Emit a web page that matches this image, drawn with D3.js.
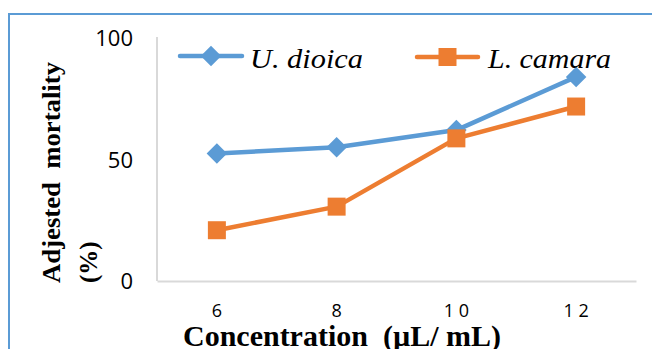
<!DOCTYPE html>
<html>
<head>
<meta charset="utf-8">
<script src="https://cdn.jsdelivr.net/npm/d3@7"></script>
<style>
  body { margin: 0; background: #fff; }
  svg { display: block; }
</style>
</head>
<body>
<div class="mortality-plot"></div>
<script>
// concentrations (µL/mL) and their printed tick labels
const concentrations = ["6", "8", "10", "12"];
const xTickLabels = ["6", "8", "1 0", "1 2"];
const yTicks = [0, 50, 100];

// adjusted mortality (%)
const dioica = [52.5, 55.0, 62.1, 84.0];
const camara = [20.9, 30.6, 58.7, 71.8];

const seriesNames = ["U. dioica", "L. camara"];

makeChart();

function makeChart() {
    const outerWidth = 652;
    const outerHeight = 349;

    const svg = d3.select('.mortality-plot')
                .append('svg')
                .attr('width', outerWidth)
                .attr('height', outerHeight);

    // blue frame (top and left edge only show in the crop)
    svg.append('path')
        .attr('d', `M9,349 L9,14 L652,14`)
        .attr('fill', 'none')
        .attr('stroke', '#5B9BD5')
        .attr('stroke-width', 2);

    const xScale = d3.scaleBand()
                .domain(concentrations)
                .range([157, 636]);
    const yScale = d3.scaleLinear()
                .domain([0, 100])
                .range([281, 38]);

    const xAxis = d3.axisBottom(xScale)
                .tickSize(0)
                .tickFormat((d, i) => xTickLabels[i]);
    const yAxis = d3.axisLeft(yScale)
                .tickValues(yTicks)
                .tickSize(0)
                .tickFormat(d3.format('d'));

    svg.append('g')
        .attr('transform', `translate(0, ${yScale(0)})`)
        .call(xAxis)
        .call(g => g.select('.domain')
                    .attr('stroke', '#D9D9D9')
                    .attr('stroke-width', 2))
        .call(g => g.selectAll('.tick text')
                    .attr('y', 30)
                    .attr('dy', '0.32em')
                    .attr('font-family', '"Open Sans", sans-serif')
                    .attr('font-size', 18)
                    .attr('fill', '#000'));

    svg.append('g')
        .attr('transform', `translate(157, 0)`)
        .call(yAxis)
        .call(g => g.select('.domain')
                    .attr('d', `M0,${yScale(0)}V${yScale(100) - 1}`)
                    .attr('stroke', '#D9D9D9')
                    .attr('stroke-width', 2))
        .call(g => g.selectAll('.tick text')
                    .attr('x', -24)
                    .attr('dy', '0.36em')
                    .attr('font-family', '"Open Sans", sans-serif')
                    .attr('font-size', 22)
                    .attr('fill', '#000'));

    // axis titles
    svg.append('text')
        .attr('x', 183)
        .attr('y', 346)
        .attr('font-family', '"Liberation Serif", serif')
        .attr('font-weight', 'bold')
        .attr('font-size', 29)
        .attr('textLength', 318)
        .attr('lengthAdjust', 'spacingAndGlyphs')
        .style('white-space', 'pre')
        .text('Concentration  (µL/ mL)');

    const yTitle = svg.append('text')
        .attr('transform', 'translate(60, 283) rotate(-90)')
        .attr('font-family', '"Liberation Serif", serif')
        .attr('font-weight', 'bold')
        .attr('font-size', 25)
        .style('white-space', 'pre');
    yTitle.append('tspan')
        .attr('x', 0).attr('y', 0)
        .attr('textLength', 221)
        .attr('lengthAdjust', 'spacingAndGlyphs')
        .text('Adjested  mortality');
    yTitle.append('tspan')
        .attr('x', 0).attr('y', 37)
        .text('(%)');

    const line = d3.line()
                .x((d, i) => xScale(concentrations[i]) + xScale.bandwidth() / 2)
                .y(d => yScale(d));

    const series = [
        {name: seriesNames[0], values: dioica, color: '#5B9BD5', symbol: 'diamond'},
        {name: seriesNames[1], values: camara, color: '#ED7D31', symbol: 'square'}
    ];

    const diamond = d3.symbol().type(d3.symbolSquare).size(210);
    const square = d3.symbol().type(d3.symbolSquare).size(324);

    function marker(sel, s) {
        sel.append('path')
            .attr('d', s.symbol === 'diamond' ? diamond() : square())
            .attr('fill', s.color)
            .attr('transform', function() {
                const base = d3.select(this.parentNode).attr('data-pos');
                return base + (s.symbol === 'diamond' ? ' rotate(45)' : '');
            });
    }

    series.forEach(s => {
        svg.append('path')
            .datum(s.values)
            .attr('fill', 'none')
            .attr('stroke', s.color)
            .attr('stroke-width', 4.5)
            .attr('stroke-linejoin', 'round')
            .attr('d', line);

        svg.selectAll(null)
            .data(s.values)
            .enter()
            .append('g')
            .attr('data-pos', (d, i) => `translate(${xScale(concentrations[i]) + xScale.bandwidth() / 2}, ${yScale(d)})`)
            .each(function() { marker(d3.select(this), s); });
    });

    // legend
    const legendItems = [
        {x1: 180, x2: 242, y: 56, tx: 250, s: series[0], width: 113},
        {x1: 417, x2: 478, y: 57, tx: 488, s: series[1], width: 123}
    ];
    legendItems.forEach(l => {
        const g = svg.append('g');
        g.append('line')
            .attr('x1', l.x1).attr('x2', l.x2)
            .attr('y1', l.y).attr('y2', l.y)
            .attr('stroke', l.s.color)
            .attr('stroke-width', 4.5)
            .attr('stroke-linecap', 'round');
        g.append('g')
            .attr('data-pos', `translate(${(l.x1 + l.x2) / 2}, ${l.y})`)
            .each(function() { marker(d3.select(this), l.s); });
        g.append('text')
            .attr('x', l.tx)
            .attr('y', 68)
            .attr('font-family', '"Liberation Serif", serif')
            .attr('font-style', 'italic')
            .attr('font-size', 28)
            .attr('textLength', l.width)
            .attr('lengthAdjust', 'spacingAndGlyphs')
            .text(l.s.name);
    });
}
</script>
</body>
</html>
